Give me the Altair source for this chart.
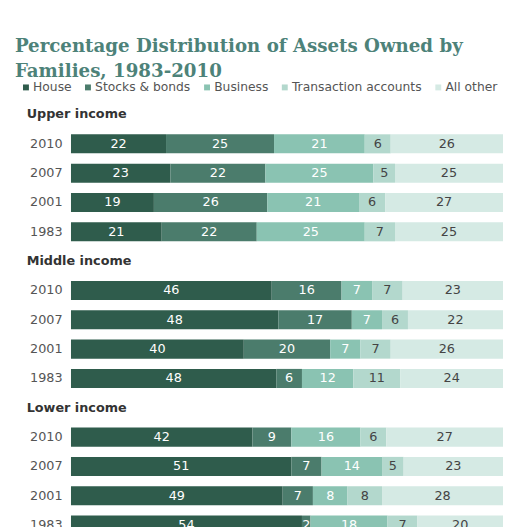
import altair as alt
import pandas as pd

groups = ["Upper income", "Middle income", "Lower income"]
years = ["2010", "2007", "2001", "1983"]
categories = ["House", "Stocks & bonds", "Business", "Transaction accounts", "All other"]
colors = ["#2f5c4c", "#4b7c6c", "#8ac3b2", "#b3d8cd", "#d5eae4"]

# values ordered: Upper 2010,2007,2001,1983 | Middle ... | Lower ...
house = [22, 23, 19, 21, 46, 48, 40, 48, 42, 51, 49, 54]
stocks = [25, 22, 26, 22, 16, 17, 20, 6, 9, 7, 7, 2]
business = [21, 25, 21, 25, 7, 7, 7, 12, 16, 14, 8, 18]
transaction = [6, 5, 6, 7, 7, 6, 7, 11, 6, 5, 8, 7]
other = [26, 25, 27, 25, 23, 22, 26, 24, 27, 23, 28, 20]
series = [house, stocks, business, transaction, other]

rows = []
slots = []
for gi, g in enumerate(groups):
    slots.append(g + "|")
    for yi, yr in enumerate(years):
        key = g + "|" + yr
        slots.append(key)
        for ci, c in enumerate(categories):
            rows.append(dict(key=key, category=c, order=ci, value=series[ci][gi * 4 + yi]))
df = pd.DataFrame(rows)
headers = pd.DataFrame({"key": [g + "|" for g in groups], "label": groups})

yscale = alt.Scale(domain=slots, paddingInner=0.35, paddingOuter=0.175)
yaxis = alt.Axis(title=None, labelExpr="split(datum.label, '|')[1]", ticks=False, domain=False,
                 labelFont="DejaVu Sans", labelFontSize=13, labelColor="#555555", labelPadding=9)
y = alt.Y("key:N", sort=slots, scale=yscale, axis=yaxis)

base = alt.Chart(df).transform_stack(
    stack="value", groupby=["key"], sort=[alt.SortField("order", "ascending")],
    as_=["x0", "x1"], offset="normalize"
).transform_calculate(mid="(datum.x0 + datum.x1) / 2")

bars = base.mark_bar().encode(
    x=alt.X("x0:Q", scale=alt.Scale(domain=[0, 1]), axis=None),
    x2="x1:Q",
    y=y,
    color=alt.Color("category:N", sort=categories,
                    scale=alt.Scale(domain=categories, range=colors),
                    legend=alt.Legend(title=None, orient="none", legendX=-52, legendY=-19,
                                      direction="horizontal", symbolType="square", symbolSize=36,
                                      labelFont="DejaVu Sans", labelFontSize=12.5, labelColor="#555555",
                                      columnPadding=10, labelOffset=1, symbolStrokeWidth=0, padding=0)),
)

labels = base.mark_text(font="DejaVu Sans", fontSize=13).encode(
    x=alt.X("mid:Q", scale=alt.Scale(domain=[0, 1]), axis=None),
    y=y,
    text="value:Q",
    color=alt.condition("datum.order < 3", alt.value("#ffffff"), alt.value("#444444")),
)

heads = alt.Chart(headers).mark_text(align="left", font="DejaVu Sans", fontWeight="bold",
                                     fontSize=13, color="#333333").encode(
    x=alt.value(-45),
    y=y,
    text="label:N",
)

chart = alt.layer(bars, labels, heads).properties(
    width=439, height=447,
    autosize="none",
    padding={"left": 64, "top": 89, "right": 0, "bottom": 0},
    title=alt.TitleParams(
        text=["Percentage Distribution of Assets Owned by", "Families, 1983-2010"],
        anchor="start", frame="group", dx=-57, fontSize=18.5, font="DejaVu Serif",
        fontWeight="bold", color="#4d8279", lineHeight=25, offset=1,
    ),
).configure_view(stroke=None)

chart.save("out.html", embed_options={"renderer": "svg", "actions": False})
